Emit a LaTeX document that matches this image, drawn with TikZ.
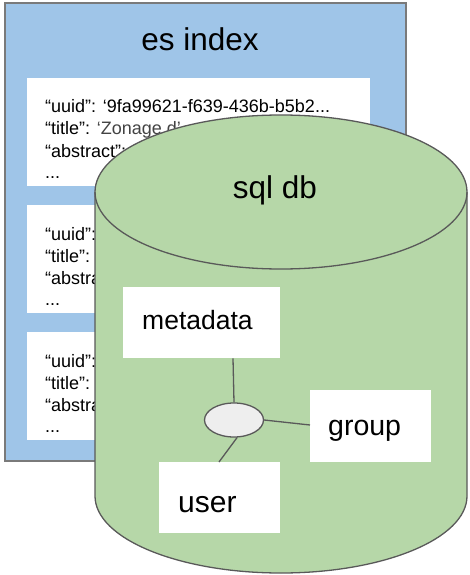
\documentclass[tikz,border=0pt]{standalone}
\usepackage{fontspec}
\usetikzlibrary{shapes.geometric}
\setmainfont{Liberation Sans}
\definecolor{esblue}{HTML}{9FC5E8}
\definecolor{dbgreen}{HTML}{B6D7A8}
\definecolor{edge}{HTML}{595959}
\definecolor{joinfill}{HTML}{EEEEEE}
\definecolor{dimtext}{HTML}{434343}
\begin{document}
\begin{tikzpicture}[x=1pt,y=-1pt,
  docbox/.style={fill=white, draw=none, inner sep=0pt, minimum width=343pt, minimum height=108pt, anchor=north west},
  doctext/.style={anchor=base west, font=\fontsize{18}{22}\selectfont, inner sep=0pt},
  tablebox/.style={fill=white, draw=none, inner sep=0pt, anchor=north west},
  tabletext/.style={anchor=base west, inner sep=0pt},
  title/.style={anchor=base, font=\fontsize{31.5}{36}\selectfont, inner sep=0pt},
  link/.style={draw=edge, line width=1.3pt}]
\useasboundingbox (0,0) rectangle (469,575);

% index container
\draw[fill=esblue, draw=edge!80, line width=1.3pt] (5,3) rectangle (406,461);
\node[title] (estitle) at (200,51) {es index};

% documents in the index
\node[docbox] (doc1) at (27,78) {};
\node[docbox] (doc2) at (27,205) {};
\node[docbox] (doc3) at (27,332) {};
\foreach \d/\y in {1/78,2/205,3/332}{
  \node[doctext] (d\d a) at (45,\y+35) {“uuid”: ‘9fa99621-f639-436b-b5b2...};
  \node[doctext] (d\d b) at (45,\y+57) {“title”: \textcolor{dimtext}{‘Zonage d’}...};
  \node[doctext] (d\d c) at (45,\y+79) {“abstract”: ...};
  \node[doctext] (d\d d) at (45,\y+100) {...};
}

% database cylinder
\fill[dbgreen] (95,192) -- (95,496) arc[start angle=180, end angle=0, x radius=186, y radius=77]
  -- (467,192) arc[start angle=0, end angle=-180, x radius=186, y radius=77] -- cycle;
\draw[edge, line width=1.3pt] (95,192) -- (95,496) arc[start angle=180, end angle=0, x radius=186, y radius=77] -- (467,192);
\draw[edge, line width=1.3pt] (281,192) ellipse[x radius=186, y radius=77];
\node[title] (dbtitle) at (275,198) {sql db};

% tables
\node[tablebox, minimum width=157pt, minimum height=71pt] (meta) at (123,287) {};
\node[tabletext, font=\fontsize{26.5}{30}\selectfont] (metalabel) at (142,329) {metadata};
\node[tablebox, minimum width=121pt, minimum height=72pt] (group) at (310,390) {};
\node[tabletext, font=\fontsize{28.5}{32}\selectfont] (grouplabel) at (328,435) {group};
\node[tablebox, minimum width=121pt, minimum height=71pt] (user) at (159,462) {};
\node[tabletext, font=\fontsize{30}{34}\selectfont] (userlabel) at (178,512) {user};

% join between tables
\node[ellipse, draw=edge, fill=joinfill, line width=1.3pt, minimum width=59pt, minimum height=34pt, inner sep=0pt] (join) at (234,420) {};
\coordinate (userend) at (219,462);
\draw[link] (meta.south -| join.north) ++(-1,0) -- (join.north);
\draw[link] (join.east) -- (group.west |- 0,425);
\draw[link] (join.-80) -- (userend);
\end{tikzpicture}
\end{document}
